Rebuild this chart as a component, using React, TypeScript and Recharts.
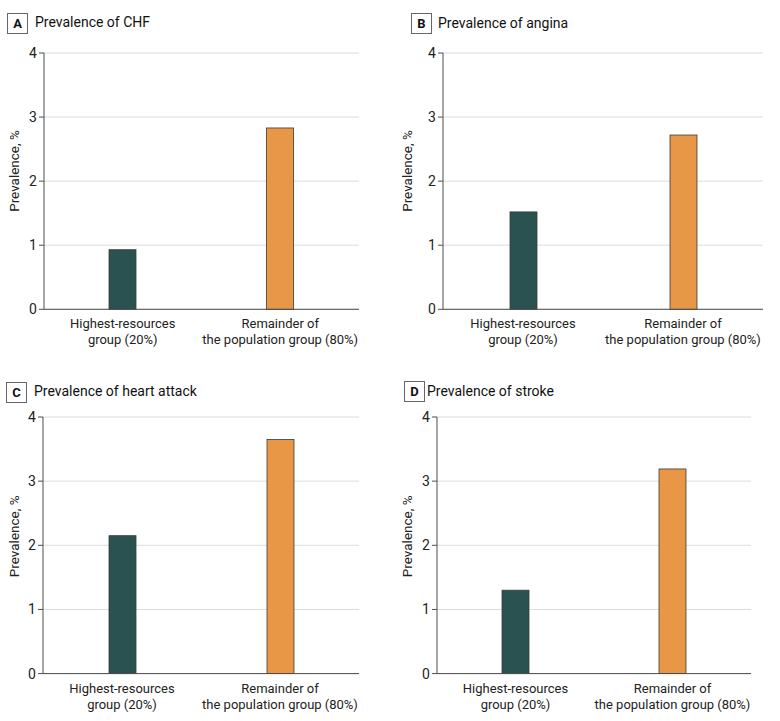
import { BarChart, Bar, XAxis, YAxis, CartesianGrid } from 'recharts';

const groupLabels = ['Highest-resources group (20%)', 'Remainder of the population group (80%)'];
const groupLabelLines = [
  ['Highest-resources', 'group (20%)'],
  ['Remainder of', 'the population group (80%)'],
];
const groupColors = ['#2a5251', '#e79746'];

const chfValues = [0.93, 2.83];
const anginaValues = [1.52, 2.72];
const heartAttackValues = [2.15, 3.65];
const strokeValues = [1.3, 3.19];

const panelLetters = ['A', 'B', 'C', 'D'];
const panelTitles = [
  'Prevalence of CHF',
  'Prevalence of angina',
  'Prevalence of heart attack',
  'Prevalence of stroke',
];
const yTicks = [0, 1, 2, 3, 4];
const yAxisTitle = 'Prevalence, %';

const FONT = 'Roboto, "Noto Sans", sans-serif';
const Y_W = 60;
const TOP_PAD = 10;
const X_H = 50;

// page positions for each panel (layout only)
const layouts = [
  { boxLeft: 7, boxTop: 12.5, textLeft: 35, plotLeft: 44, plotRight: 359, plotTop: 53, plotBottom: 309.3, yLabelX: 14, yLabelY: 171 },
  { boxLeft: 411, boxTop: 13, textLeft: 438, plotLeft: 443, plotRight: 763, plotTop: 53, plotBottom: 309.3, yLabelX: 407, yLabelY: 171 },
  { boxLeft: 6, boxTop: 381.5, textLeft: 34, plotLeft: 43, plotRight: 359, plotTop: 416.7, plotBottom: 673.3, yLabelX: 14, yLabelY: 536 },
  { boxLeft: 404, boxTop: 381, textLeft: 427, plotLeft: 437, plotRight: 751, plotTop: 416.7, plotBottom: 673.3, yLabelX: 407, yLabelY: 536 },
];

type Layout = (typeof layouts)[number];

function Panel({ letter, title, values, layout }: { letter: string; title: string; values: number[]; layout: Layout }) {
  const plotW = layout.plotRight - layout.plotLeft;
  const plotH = layout.plotBottom - layout.plotTop;
  const chartLeft = layout.plotLeft - Y_W;
  const chartTop = layout.plotTop - TOP_PAD;
  const width = Y_W + plotW + 12;
  const height = TOP_PAD + plotH + X_H;
  const data = groupLabels.map((g, i) => ({ group: g, value: values[i], idx: i }));
  const axisBottom = TOP_PAD + plotH;

  const renderXTick = (props: any) => {
    const { x, payload } = props;
    const idx = groupLabels.indexOf(payload.value);
    const lines = groupLabelLines[idx] ?? [payload.value];
    return (
      <text x={x} y={axisBottom + 19} textAnchor="middle" fontSize={13} fill="#222" fontFamily={FONT}>
        {lines.map((l, i) => (
          <tspan key={i} x={x} y={axisBottom + 19 + i * 16}>
            {l}
          </tspan>
        ))}
      </text>
    );
  };

  const lx = layout.yLabelX - chartLeft;
  const ly = layout.yLabelY - chartTop;

  return (
    <>
      <div
        style={{
          position: 'absolute',
          left: layout.boxLeft,
          top: layout.boxTop,
          width: 19,
          height: 19,
          border: '1px solid #666',
          fontFamily: FONT,
          fontWeight: 700,
          fontSize: 13,
          lineHeight: '19px',
          textAlign: 'center',
          color: '#111',
        }}
      >
        {letter}
      </div>
      <div
        style={{
          position: 'absolute',
          left: layout.textLeft,
          top: layout.boxTop + 0.5,
          fontFamily: FONT,
          fontSize: 14,
          lineHeight: '19px',
          color: '#111',
          whiteSpace: 'nowrap',
        }}
      >
        {title}
      </div>
      <div style={{ position: 'absolute', left: chartLeft, top: chartTop }}>
        <BarChart width={width} height={height} data={data} margin={{ top: TOP_PAD, right: 12, left: 0, bottom: 0 }}>
          <CartesianGrid vertical={false} stroke="#dcdcdc" strokeWidth={1} />
          <XAxis
            dataKey="group"
            type="category"
            height={X_H}
            axisLine={{ stroke: '#4d4d4d', strokeWidth: 1 }}
            tickLine={false}
            tick={renderXTick}
            interval={0}
          />
          <YAxis
            width={Y_W}
            domain={[0, 4]}
            ticks={yTicks}
            axisLine={{ stroke: '#4d4d4d', strokeWidth: 1 }}
            tickLine={{ stroke: '#4d4d4d' }}
            tickSize={5}
            tick={{ fontSize: 14, fill: '#222', fontFamily: FONT }}
            label={() => (
              <text
                x={lx}
                y={ly}
                transform={`rotate(-90, ${lx}, ${ly})`}
                textAnchor="middle"
                dominantBaseline="central"
                fontSize={13.5}
                fill="#222"
                fontFamily={FONT}
              >
                {yAxisTitle}
              </text>
            )}
          />
          <Bar
            dataKey="value"
            barSize={27}
            isAnimationActive={false}
            stroke="#3a3a3a"
            strokeWidth={0.8}
            shape={(p: any) => (
              <rect
                x={p.x}
                y={p.y}
                width={p.width}
                height={p.height}
                fill={groupColors[p.payload.idx]}
                stroke="#3a3a3a"
                strokeWidth={0.8}
              />
            )}
          />
        </BarChart>
      </div>
    </>
  );
}

export default function App() {
  const series = [chfValues, anginaValues, heartAttackValues, strokeValues];
  return (
    <div
      style={{
        position: 'absolute',
        left: 0,
        top: 0,
        width: 780,
        height: 721,
        background: '#fff',
        overflow: 'hidden',
        fontFamily: FONT,
      }}
    >
      {series.map((vals, i) => (
        <Panel key={i} letter={panelLetters[i]} title={panelTitles[i]} values={vals} layout={layouts[i]} />
      ))}
    </div>
  );
}
